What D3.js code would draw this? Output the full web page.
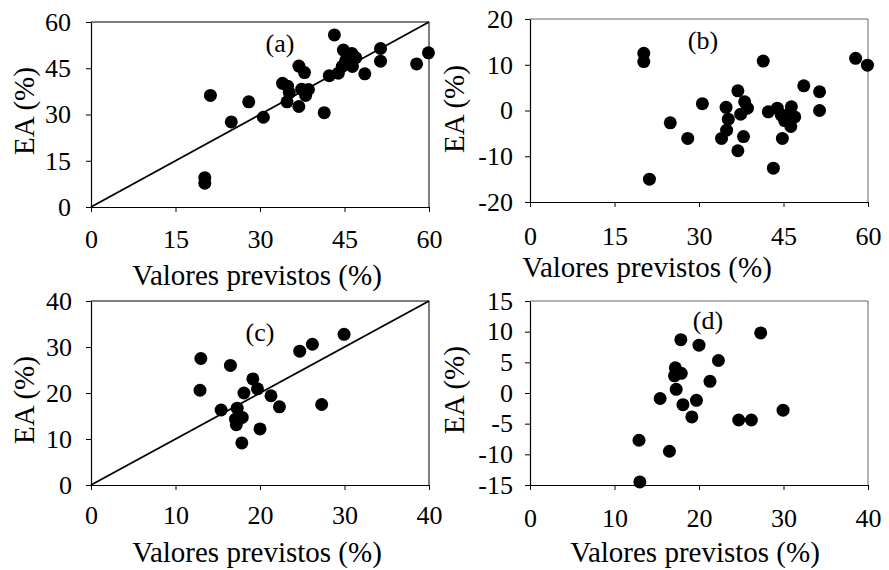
<!DOCTYPE html>
<html>
<head>
<meta charset="utf-8">
<script src="https://cdn.jsdelivr.net/npm/d3@7"></script>
<style>
  html, body { margin: 0; padding: 0; background: #fff; }
  svg text { font-family: "Liberation Serif", "Times New Roman", serif; fill: #000; }
</style>
</head>
<body>
<svg id="chart" width="889" height="570"></svg>
<script>
// ---- Data ----
// Panels (a)/(b): predicted values, observed EA, and residuals (predicted - observed)
const predA = [20.2, 20.2, 21.2, 24.9, 28.0, 30.6, 34.8, 35.2, 34.9, 34.0, 36.9, 38.1, 38.6, 37.4, 37.9, 36.9,
               41.4, 42.3, 43.9, 44.6, 45.2, 44.8, 43.2, 46.4, 47.0, 46.3, 45.7, 48.6, 51.4, 51.4, 57.8, 59.9];
const obsA  = [7.7, 9.5, 36.2, 27.6, 34.1, 29.1, 34.1, 37.1, 39.2, 40.1, 32.6, 36.2, 38.1, 38.2, 43.6, 45.7,
               30.6, 42.6, 43.4, 45.6, 47.4, 50.9, 55.8, 45.6, 48.4, 49.8, 46.7, 43.2, 47.3, 51.4, 46.4, 50.0];
const residB = [12.5, 10.7, -15.0, -2.7, -6.1, 1.5, 0.7, -1.9, -4.3, -6.1, 4.3, 1.9, 0.5, -0.8, -5.7, -8.8,
                10.8, -0.3, 0.5, -1.0, -2.2, -6.1, -12.6, 0.8, -1.4, -3.5, -1.0, 5.4, 4.1, 0.0, 11.4, 9.9];
// Panels (c)/(d)
const predC = [12.9, 13.0, 15.4, 16.5, 17.2, 17.1, 17.9, 17.3, 17.85, 18.1, 19.15, 19.7, 20.0, 21.3, 22.3,
               24.7, 26.2, 27.3, 29.95];
const obsC  = [20.6, 27.5, 16.3, 26.0, 13.1, 14.3, 14.7, 16.7, 9.15, 20.0, 23.05, 20.9, 12.2, 19.4, 17.0,
               29.1, 30.6, 17.5, 32.75];
const residD = [-7.7, -14.5, -0.9, -9.5, 4.1, 2.8, 3.2, 0.6, 8.7, -1.9, -3.9, -1.2, 7.8, 1.9, 5.3,
                -4.4, -4.4, 9.8, -2.8];

// Tick labels
const ticksX60 = [0, 15, 30, 45, 60];
const ticksYa  = [0, 15, 30, 45, 60];
const ticksYb  = [-20, -10, 0, 10, 20];
const ticksX40 = [0, 10, 20, 30, 40];
const ticksYc  = [0, 10, 20, 30, 40];
const ticksYd  = [-15, -10, -5, 0, 5, 10, 15];

const panelLabels = ["(a)", "(b)", "(c)", "(d)"];
const xTitle = "Valores previstos (%)";
const yTitle = "EA (%)";

// ---- Drawing ----
const svg = d3.select("#chart");
const FS_TICK = 26, FS_TITLE = 29, FS_LAB = 26;

function panel(cfg) {
  const x = d3.scaleLinear().domain(cfg.xDomain).range([cfg.left, cfg.right]);
  const y = d3.scaleLinear().domain(cfg.yDomain).range([cfg.bottom, cfg.top]);
  const g = svg.append("g");

  // frame (top and right)
  g.append("line").attr("x1", cfg.left).attr("x2", cfg.right).attr("y1", cfg.top).attr("y2", cfg.top)
    .attr("stroke", cfg.frame).attr("stroke-width", 1);
  g.append("line").attr("x1", cfg.right).attr("x2", cfg.right).attr("y1", cfg.top).attr("y2", cfg.bottom)
    .attr("stroke", cfg.frame).attr("stroke-width", 1);

  const fmt = d => String(d);
  const xa = g.append("g").attr("transform", `translate(0,${cfg.bottom})`)
    .call(d3.axisBottom(x).tickValues(cfg.xTicks).tickFormat(fmt).tickSize(5).tickSizeOuter(0).tickPadding(cfg.xPad));
  const ya = g.append("g").attr("transform", `translate(${cfg.left},0)`)
    .call(d3.axisLeft(y).tickValues(cfg.yTicks).tickFormat(fmt).tickSize(5).tickSizeOuter(0).tickPadding(cfg.yPad));
  [xa, ya].forEach(a => {
    a.select(".domain").attr("stroke", "#000").attr("stroke-width", 1.2);
    a.selectAll(".tick line").attr("stroke", "#000");
    a.selectAll(".tick text").attr("font-size", FS_TICK);
  });

  // 1:1 line
  if (cfg.diag) {
    const d = cfg.xDomain;
    g.append("line")
      .attr("x1", x(d[0])).attr("y1", y(d[0]))
      .attr("x2", x(d[1])).attr("y2", y(d[1]))
      .attr("stroke", "#000").attr("stroke-width", 1.8);
  }

  // points
  g.selectAll("circle.pt").data(cfg.xs.map((v, i) => [v, cfg.ys[i]])).join("circle")
    .attr("class", "pt")
    .attr("cx", d => x(d[0])).attr("cy", d => y(d[1])).attr("r", 6.5)
    .attr("fill", "#000");

  // panel label
  g.append("text").attr("x", cfg.labX).attr("y", cfg.labY).attr("text-anchor", "middle")
    .attr("font-size", FS_LAB).text(cfg.label);

  // axis titles
  g.append("text").attr("x", cfg.xtX).attr("y", cfg.xtY).attr("text-anchor", "middle")
    .attr("font-size", FS_TITLE).text(xTitle);
  g.append("text").attr("transform", `translate(${cfg.ytX},${cfg.ytY}) rotate(-90)`)
    .attr("text-anchor", "middle").attr("font-size", FS_TITLE).text(yTitle);
}

panel({ xDomain: [0, 60], yDomain: [0, 60], xTicks: ticksX60, yTicks: ticksYa,
  left: 91, right: 429, top: 22, bottom: 207, xPad: 18, yPad: 15, frame: "#000",
  xs: predA, ys: obsA, diag: true, label: panelLabels[0], labX: 280, labY: 52,
  xtX: 257, xtY: 285, ytX: 34, ytY: 111 });

panel({ xDomain: [0, 60], yDomain: [-20, 20], xTicks: ticksX60, yTicks: ticksYb,
  left: 530, right: 868, top: 19, bottom: 202, xPad: 20, yPad: 12, frame: "#666",
  xs: predA, ys: residB, diag: false, label: panelLabels[1], labX: 703, labY: 49,
  xtX: 647, xtY: 277, ytX: 464, ytY: 109 });

panel({ xDomain: [0, 40], yDomain: [0, 40], xTicks: ticksX40, yTicks: ticksYc,
  left: 91, right: 429, top: 301, bottom: 485, xPad: 16, yPad: 14, frame: "#000",
  xs: predC, ys: obsC, diag: true, label: panelLabels[2], labX: 260, labY: 341,
  xtX: 257, xtY: 562, ytX: 34, ytY: 400 });

panel({ xDomain: [0, 40], yDomain: [-15, 15], xTicks: ticksX40, yTicks: ticksYd,
  left: 530, right: 868, top: 301, bottom: 485, xPad: 19, yPad: 12, frame: "#666",
  xs: predC, ys: residD, diag: false, label: panelLabels[3], labX: 708, labY: 329,
  xtX: 695, xtY: 562, ytX: 464, ytY: 390 });
</script>
</body>
</html>
